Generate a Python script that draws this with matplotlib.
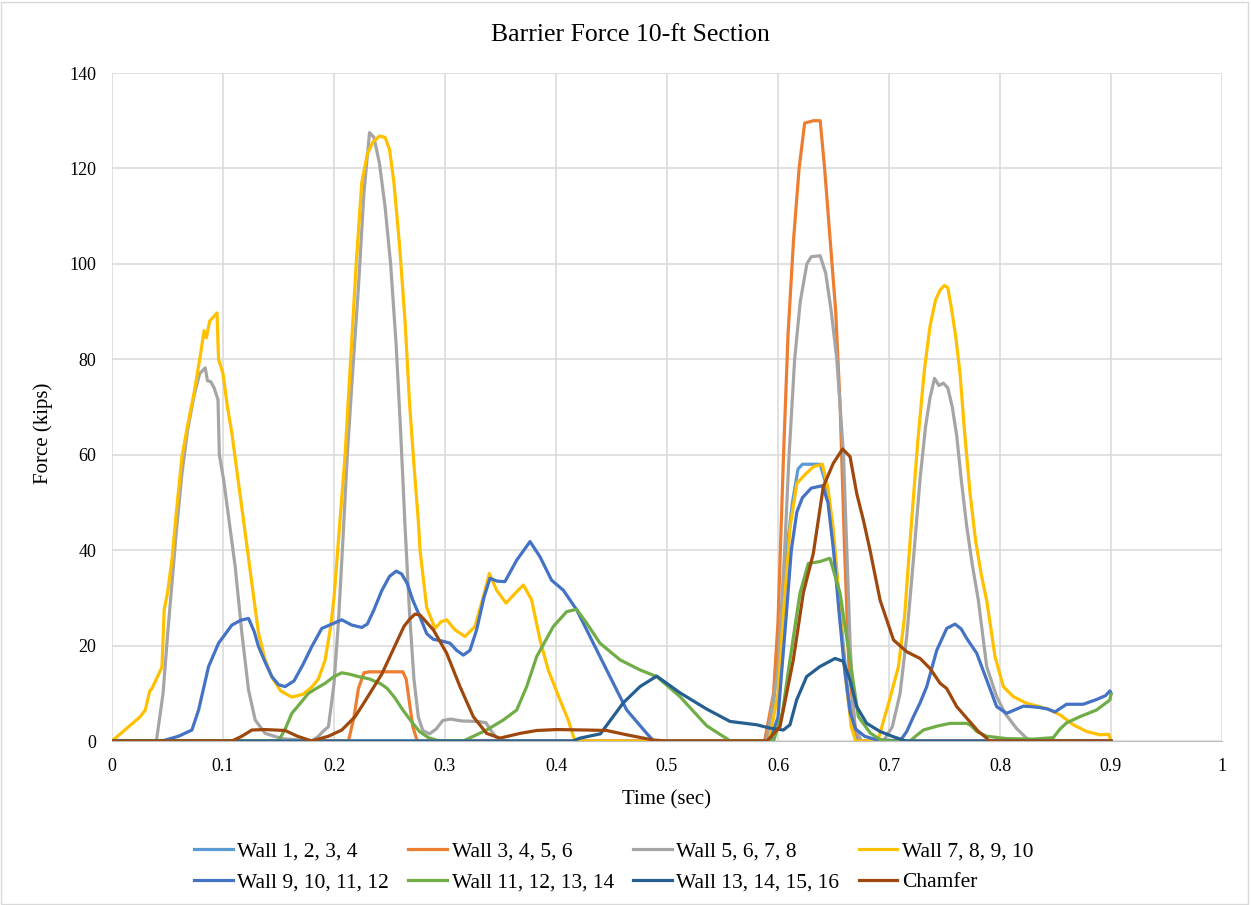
import matplotlib
matplotlib.use('Agg')
import matplotlib.pyplot as plt

# Time (sec) / Force (kips) points
t_w1 = [0, 0.588, 0.596, 0.603, 0.608, 0.613, 0.618, 0.622, 0.630, 0.638, 0.643, 0.648, 0.653, 0.658, 0.663, 0.668, 0.672, 0.9]
f_w1 = [0, 0, 8, 25, 40, 50, 57, 58, 58, 58, 54, 46, 35, 22, 10, 2, 0, 0]

t_w3 = [0, 0.213, 0.218, 0.222, 0.227, 0.232, 0.262, 0.265, 0.268, 0.271, 0.275,
        0.588, 0.596, 0.600, 0.605, 0.609, 0.614, 0.619, 0.624, 0.632, 0.638, 0.642, 0.647,
        0.652, 0.656, 0.660, 0.664, 0.670, 0.675, 0.9]
f_w3 = [0, 0, 5, 11, 14.3, 14.5, 14.5, 13, 8, 3, 0,
        0, 10, 25, 60, 85, 105, 120, 129.5, 130, 130, 120, 105,
        90, 70, 40, 15, 2, 0, 0]

t_w5 = [0, 0.040, 0.046, 0.050, 0.054, 0.058, 0.063, 0.068, 0.074, 0.079, 0.084, 0.086, 0.089,
        0.092, 0.0955, 0.0967, 0.1006, 0.105, 0.111, 0.117, 0.123, 0.129, 0.138, 0.153, 0.18,
        0.186, 0.190, 0.195, 0.200, 0.204, 0.208, 0.212, 0.217, 0.222, 0.227, 0.232, 0.236, 0.241,
        0.246, 0.251, 0.256, 0.260, 0.264, 0.268, 0.272, 0.276, 0.280, 0.286, 0.292, 0.298, 0.305,
        0.315, 0.330, 0.337, 0.342, 0.348, 0.352,
        0.590, 0.600, 0.606, 0.610, 0.615, 0.620, 0.626, 0.630, 0.638, 0.643, 0.648, 0.653, 0.659,
        0.662, 0.665, 0.669, 0.675,
        0.695, 0.703, 0.710, 0.716, 0.722, 0.728, 0.733, 0.737, 0.741, 0.745, 0.749, 0.753, 0.757,
        0.761, 0.765, 0.770, 0.775, 0.7805, 0.788, 0.797, 0.8045, 0.815, 0.8225, 0.827, 0.9]
f_w5 = [0, 0, 10, 22, 33, 44, 56, 65, 72.5, 77, 78.2, 75.5, 75.3,
        74, 71.5, 60, 54.7, 47, 36.5, 22.6, 10.7, 4.4, 1.6, 0.5, 0,
        1, 2, 3, 12, 25, 42, 60, 78, 95, 115, 127.5, 126.5, 121,
        112, 100, 83, 65, 45, 27, 13, 5, 2.2, 1.5, 2.5, 4.3, 4.6,
        4.2, 4.1, 3.8, 2, 0.3, 0,
        0, 15, 40, 60, 80, 92, 100, 101.5, 101.7, 98, 90, 80, 60,
        40, 20, 3, 0,
        0, 3, 10, 22, 38, 55, 66, 72, 76, 74.5, 75, 74, 70,
        64, 55, 45, 37, 29.5, 15.6, 9.3, 5.8, 2.6, 0.9, 0, 0]

t_w7 = [0, 0.005, 0.015, 0.025, 0.03, 0.034, 0.036, 0.040, 0.045, 0.047, 0.050, 0.054, 0.058, 0.063,
        0.068, 0.074, 0.079, 0.083, 0.085, 0.088, 0.0946, 0.096, 0.1, 0.104, 0.108, 0.114, 0.12,
        0.126, 0.132, 0.138, 0.144, 0.152, 0.162, 0.172, 0.18, 0.186, 0.192, 0.197, 0.2, 0.205,
        0.21, 0.215, 0.22, 0.225, 0.230, 0.235, 0.241, 0.246, 0.250, 0.254, 0.259, 0.264, 0.268,
        0.272, 0.276, 0.2775, 0.2835, 0.291, 0.2965, 0.3015, 0.309, 0.318, 0.327, 0.3345, 0.34,
        0.3465, 0.355, 0.363, 0.3706, 0.378, 0.3856, 0.393, 0.4036, 0.411, 0.417,
        0.592, 0.6, 0.606, 0.611, 0.617, 0.625, 0.632, 0.64, 0.645, 0.65, 0.655, 0.66, 0.666, 0.67,
        0.69, 0.696, 0.700, 0.7085, 0.714, 0.720, 0.726, 0.732, 0.737, 0.742, 0.746, 0.750, 0.753,
        0.756, 0.760, 0.764, 0.768, 0.773, 0.778, 0.783, 0.788, 0.7955, 0.803, 0.812, 0.824, 0.842,
        0.854, 0.866, 0.878, 0.890, 0.898, 0.9]
f_w7 = [0, 1, 3, 5, 6.5, 10.5, 11, 13, 15.5, 27.5, 31, 38, 48, 59.5,
        66, 73, 80, 86, 84.5, 88, 89.7, 80, 77, 70, 64.5, 54, 43.6,
        33, 22.6, 17, 13.4, 10.5, 9.2, 9.8, 11.3, 13, 17, 24, 30, 45,
        60, 80, 100, 117, 123, 125.5, 126.8, 126.5, 124, 117, 104, 88, 71,
        58, 46, 40, 28, 23.6, 25, 25.4, 23.3, 21.9, 24, 30.2, 35.1,
        31.6, 28.9, 30.9, 32.7, 29.6, 21.2, 14.9, 8.6, 4.4, 0,
        0, 10, 30, 45, 54, 56, 57.5, 58, 53, 44, 30, 15, 3, 0,
        0, 5, 8.2, 15.6, 26, 45, 63, 78, 87, 92.5, 94.5, 95.5, 95,
        91, 85, 77, 65, 52, 42, 35, 29.5, 17.7, 11.4, 9.3, 7.9, 6.8,
        5.5, 3.4, 2, 1.3, 1.4, 0]

t_w9 = [0, 0.045, 0.06, 0.072, 0.078, 0.087, 0.096, 0.108, 0.116, 0.123, 0.128, 0.132, 0.138, 0.144,
        0.150, 0.156, 0.164, 0.172, 0.18, 0.189, 0.198, 0.207, 0.216, 0.225, 0.230, 0.236, 0.243,
        0.250, 0.256, 0.261, 0.266, 0.271, 0.2775, 0.2835, 0.2895, 0.2965, 0.3045, 0.3105, 0.3165,
        0.3225, 0.3285, 0.335, 0.3405, 0.347, 0.354, 0.3646, 0.3766, 0.3856, 0.396, 0.4066, 0.4186,
        0.4336, 0.4486, 0.4637, 0.4817, 0.488,
        0.593, 0.6, 0.607, 0.612, 0.617, 0.622, 0.63, 0.64, 0.645, 0.65, 0.655, 0.66, 0.665, 0.67,
        0.678, 0.688, 0.71, 0.716, 0.722, 0.728, 0.734, 0.743, 0.752, 0.7595, 0.765, 0.77, 0.779,
        0.788, 0.797, 0.806, 0.813, 0.821, 0.828, 0.836, 0.843, 0.8495, 0.86, 0.875, 0.887, 0.895,
        0.899, 0.9]
f_w9 = [0, 0, 1, 2.3, 6.5, 15.6, 20.5, 24.3, 25.3, 25.7, 23, 19.8, 16.5, 13.5,
        11.8, 11.4, 12.6, 16, 19.8, 23.6, 24.5, 25.4, 24.3, 23.8, 24.5, 27.5, 31.5,
        34.5, 35.6, 35, 33, 29.5, 26, 22.5, 21.3, 21, 20.5, 19, 18,
        19, 23.3, 30, 34.1, 33.5, 33.4, 37.9, 41.8, 38.6, 33.7, 31.6, 27.5,
        20.5, 13.5, 6.5, 1.6, 0,
        0, 5, 25, 40, 48, 51, 53, 53.5, 50, 40, 27, 15, 6, 2.5,
        1, 0.3, 0, 2, 5.1, 8, 11.4, 19, 23.6, 24.5, 23.5, 21.5, 18.4,
        12.8, 7.2, 5.8, 6.5, 7.3, 7.2, 7.0, 6.7, 6.1, 7.7, 7.7, 8.7, 9.5,
        10.5, 10]

t_w11 = [0, 0.15, 0.156, 0.162, 0.170, 0.177, 0.184, 0.192, 0.200, 0.207, 0.214, 0.222, 0.232, 0.242,
         0.248, 0.255, 0.262, 0.270, 0.277, 0.285, 0.295, 0.3165, 0.3375, 0.3525, 0.3646, 0.3736,
         0.3826, 0.3976, 0.4096, 0.4186, 0.4276, 0.4396, 0.4577, 0.4757, 0.4907, 0.5117, 0.5357,
         0.557, 0.596, 0.604, 0.6108, 0.6198, 0.6273, 0.6378, 0.6468, 0.6559, 0.6649, 0.6724, 0.683,
         0.692, 0.70, 0.719, 0.725, 0.731, 0.743, 0.755, 0.770, 0.774, 0.779, 0.788, 0.806, 0.830,
         0.848, 0.854, 0.860, 0.872, 0.887, 0.899, 0.9]
f_w11 = [0, 0, 2.5, 5.8, 8, 10, 11, 12.1, 13.5, 14.3, 14, 13.5, 13, 12,
         11, 9, 6.5, 4, 2, 0.7, 0, 0, 2.3, 4.4, 6.5, 11.4,
         17.7, 24, 27.1, 27.6, 24.7, 20.5, 17, 14.9, 13.5, 9.3, 3.2,
         0, 0, 6, 17, 31, 37.2, 37.6, 38.3, 31, 17, 5.1, 1.7,
         0.3, 0, 0, 1.2, 2.3, 3.1, 3.7, 3.7, 3.2, 2, 1, 0.5, 0.4,
         0.7, 2.5, 3.8, 5.1, 6.5, 8.6, 9.8]

t_w13 = [0, 0.415, 0.4216, 0.44, 0.4606, 0.4757, 0.4907, 0.5117, 0.5357, 0.5568, 0.5808, 0.5928,
         0.6048, 0.6108, 0.6168, 0.6258, 0.6378, 0.6514, 0.6588, 0.6649, 0.6709, 0.6799, 0.6919,
         0.7039, 0.715, 0.9]
f_w13 = [0, 0, 0.6, 1.5, 8, 11.4, 13.6, 10.1, 6.7, 4.1, 3.4, 2.7,
         2.3, 3.4, 8.6, 13.5, 15.6, 17.3, 16.7, 12.8, 7.2, 3.7, 2,
         0.9, 0, 0]

t_ch = [0, 0.108, 0.117, 0.126, 0.138, 0.156, 0.167, 0.18, 0.195, 0.207, 0.219, 0.227, 0.235, 0.243,
        0.25, 0.257, 0.263, 0.268, 0.273, 0.2775, 0.2895, 0.3015, 0.3135, 0.3255, 0.3375, 0.3495,
        0.3676, 0.3826, 0.4006, 0.4276, 0.4456, 0.4637, 0.4877, 0.5, 0.59, 0.6018, 0.6138, 0.6228,
        0.6318, 0.6408, 0.6498, 0.6582, 0.6649, 0.6709, 0.6769, 0.6829, 0.692, 0.704, 0.716,
        0.728, 0.737, 0.746, 0.752, 0.761, 0.7715, 0.7805, 0.788, 0.79, 0.9]
f_ch = [0, 0, 1, 2.3, 2.4, 2.2, 1, 0, 1, 2.3, 5.1, 8, 11, 14,
        17.5, 21, 24, 25.5, 26.6, 26.4, 23.3, 18.4, 11.4, 5.1, 1.6, 0.6,
        1.6, 2.2, 2.4, 2.3, 2.2, 1.3, 0.2, 0, 0, 3, 17, 31,
        39.3, 53.3, 58.2, 61.2, 59.6, 51.9, 46.3, 40, 29.5, 21.2, 18.7,
        17.3, 15.2, 12.1, 11, 7.2, 4.4, 2, 0.6, 0, 0]

series = [
    ('Wall 1, 2, 3, 4', t_w1, f_w1, '#5B9BD5'),
    ('Wall 3, 4, 5, 6', t_w3, f_w3, '#ED7D31'),
    ('Wall 5, 6, 7, 8', t_w5, f_w5, '#A5A5A5'),
    ('Wall 7, 8, 9, 10', t_w7, f_w7, '#FFC000'),
    ('Wall 9, 10, 11, 12', t_w9, f_w9, '#4472C4'),
    ('Wall 11, 12, 13, 14', t_w11, f_w11, '#70AD47'),
    ('Wall 13, 14, 15, 16', t_w13, f_w13, '#255E91'),
    ('Chamfer', t_ch, f_ch, '#9E480E'),
]

plt.rcParams['font.family'] = ['Liberation Serif', 'DejaVu Serif']

fig = plt.figure(figsize=(12.51, 9.05), dpi=100)
ax = fig.add_axes([112 / 1251, 164 / 905, 1110 / 1251, 668 / 905])

lines = []
for name, t, f, c in series:
    ln, = ax.plot(t, f, color=c, lw=2.3, label=name, solid_joinstyle='round')
    lines.append(ln)

ax.set_xlim(0, 1)
ax.set_ylim(0, 140)
ax.set_xticks([0, 0.1, 0.2, 0.3, 0.4, 0.5, 0.6, 0.7, 0.8, 0.9, 1])
ax.set_xticklabels(['0', '0.1', '0.2', '0.3', '0.4', '0.5', '0.6', '0.7', '0.8', '0.9', '1'])
ax.set_yticks(range(0, 141, 20))
ax.grid(True, color='#D9D9D9', lw=1.1)
ax.set_axisbelow(True)
for s in ['top', 'right', 'left']:
    ax.spines[s].set_visible(False)
ax.spines['bottom'].set_color('#BFBFBF')
ax.tick_params(axis='y', length=0, labelsize=13, pad=11.5)
ax.tick_params(axis='x', length=0, labelsize=13, pad=12.5)

fig.text(630 / 1251, (905 - 35) / 905, 'Barrier Force 10-ft Section', fontsize=18.5,
         ha='center', va='center')
ax.set_xlabel('Time (sec)', fontsize=15, labelpad=11)
ax.set_ylabel('Force (kips)', fontsize=15)
ax.yaxis.set_label_coords(-0.053, 0.46)

# Excel fills the legend row by row
order = [0, 4, 1, 5, 2, 6, 3, 7]
ax.legend([lines[i] for i in order], [series[i][0] for i in order],
          loc='upper center', bbox_to_anchor=(0.452, -0.134), ncol=4, frameon=False,
          fontsize=15.5, handlelength=1.8, handletextpad=0.2, columnspacing=0.9,
          labelspacing=0.5, borderpad=0)

fig.patches.append(plt.Rectangle((0.001, 0.001), 0.997, 0.997, transform=fig.transFigure,
                                 fill=False, edgecolor='#D9D9D9', lw=1))

fig.savefig('out.png', dpi=100)
